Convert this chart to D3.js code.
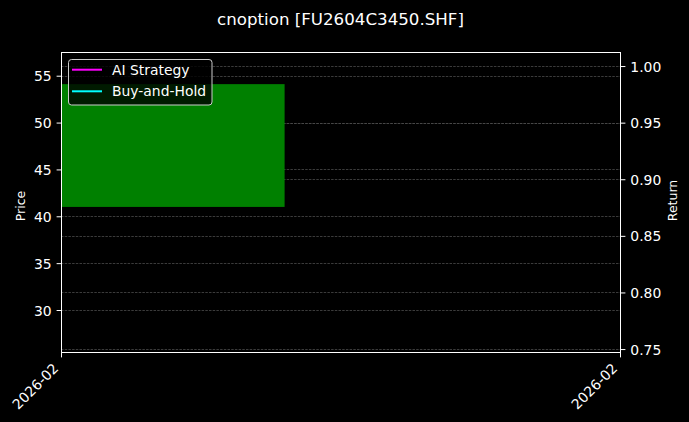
<!DOCTYPE html>
<html>
<head>
<meta charset="utf-8">
<script src="https://cdn.jsdelivr.net/npm/d3@7/dist/d3.min.js"></script>
<style>
  html, body { margin: 0; padding: 0; background: #000; }
  svg { display: block; font-family: "DejaVu Sans", sans-serif; }
</style>
</head>
<body>
<svg id="chart" width="689" height="422"></svg>
<script>
// ---- data ----
const title = "cnoption [FU2604C3450.SHF]";
const candleDates = ["2026-02-02"];
const candleOpen = [41.0];
const candleClose = [54.1];
const candleHigh = [56.0];
const candleLow = [27.0];
const xDomain = ["2026-02-02T00:00:00", "2026-02-03T00:00:00"];
const xTickLabels = ["2026-02", "2026-02"];
const priceDomain = [25.52, 57.53];
const priceTicks = [30, 35, 40, 45, 50, 55];
const returnDomain = [0.7474, 1.0124];
const returnTicks = [0.75, 0.80, 0.85, 0.90, 0.95, 1.00];
const legendNames = ["AI Strategy", "Buy-and-Hold"];
const legendColors = ["#ff00ff", "#00ffff"];

// ---- layout ----
const W = 689, H = 422;
const L = 61, R = 620, T = 52, B = 352;
const svg = d3.select("#chart");
svg.append("rect").attr("width", W).attr("height", H).attr("fill", "#000");

const parse = d3.isoParse;
const x = d3.scaleTime().domain(xDomain.map(parse)).range([L, R]);
const yP = d3.scaleLinear().domain(priceDomain).range([B, T]);
const yR = d3.scaleLinear().domain(returnDomain).range([B, T]);

svg.append("defs").append("clipPath").attr("id", "clip")
  .append("rect").attr("x", L).attr("y", T).attr("width", R - L).attr("height", B - T);

// grid lines (both axes)
const grid = svg.append("g");
function gridLines(scale, ticks) {
  grid.selectAll(null).data(ticks).enter().append("line")
    .attr("x1", L).attr("x2", R)
    .attr("y1", d => Math.round(scale(d)) + 0.5)
    .attr("y2", d => Math.round(scale(d)) + 0.5)
    .attr("stroke", "#4a4a4a").attr("stroke-width", 0.8)
    .attr("stroke-dasharray", "2.5,1.2");
}
gridLines(yP, priceTicks);
gridLines(yR, returnTicks);

// candles
const dayMs = 24 * 3600 * 1000;
const bodyHalf = 0.4 * dayMs;
const candles = candleDates.map((d, i) => ({
  date: parse(d + "T00:00:00"), open: candleOpen[i], close: candleClose[i],
  high: candleHigh[i], low: candleLow[i]
}));
const cg = svg.append("g").attr("clip-path", "url(#clip)");
cg.selectAll(".wick").data(candles).enter().append("line")
  .attr("x1", d => x(d.date)).attr("x2", d => x(d.date))
  .attr("y1", d => yP(d.high)).attr("y2", d => yP(d.low))
  .attr("stroke", d => d.close >= d.open ? "#008000" : "#ff0000").attr("stroke-width", 1);
cg.selectAll(".body").data(candles).enter().append("rect")
  .attr("x", d => x(new Date(+d.date - bodyHalf)))
  .attr("width", d => x(new Date(+d.date + bodyHalf)) - x(new Date(+d.date - bodyHalf)))
  .attr("y", d => yP(Math.max(d.open, d.close)))
  .attr("height", d => Math.abs(yP(d.open) - yP(d.close)))
  .attr("fill", d => d.close >= d.open ? "#008000" : "#ff0000");

// axes
const fs = 13.9;
const axL = svg.append("g").attr("transform", `translate(${L + 0.5},0)`)
  .call(d3.axisLeft(yP).tickValues(priceTicks).tickSize(4.9).tickPadding(4.9).tickFormat(d3.format("d")));
const axR = svg.append("g").attr("transform", `translate(${R + 0.5},0)`)
  .call(d3.axisRight(yR).tickValues(returnTicks).tickSize(4.9).tickPadding(4.9).tickFormat(d3.format(".2f")));
const xTicks = xDomain.map(parse);
const axB = svg.append("g").attr("transform", `translate(0,${B + 0.5})`)
  .call(d3.axisBottom(x).tickValues(xTicks).tickSize(4.9).tickFormat((d, i) => xTickLabels[i]));
[axL, axR, axB].forEach(a => {
  a.select(".domain").remove();
  a.selectAll(".tick line").attr("stroke", "#fff").attr("stroke-width", 1);
  a.selectAll("text").attr("fill", "#fff").attr("font-size", fs).attr("font-family", "DejaVu Sans");
});
axL.selectAll(".tick text").attr("dy", "0.36em");
axR.selectAll(".tick text").attr("dy", "0.36em");
axB.selectAll(".tick text")
  .attr("y", 0).attr("dy", 0)
  .attr("text-anchor", "end")
  .attr("transform", "translate(-2.3,16.7) rotate(-45)");

// spines
svg.append("rect").attr("x", L + 0.5).attr("y", T + 0.5)
  .attr("width", R - L).attr("height", B - T)
  .attr("fill", "none").attr("stroke", "#fff").attr("stroke-width", 1);

// axis labels
svg.append("text").attr("transform", "translate(25,206) rotate(-90)")
  .attr("text-anchor", "middle").attr("fill", "#fff").attr("font-size", 12.5).text("Price");
svg.append("text").attr("transform", "translate(677,200.5) rotate(-90)")
  .attr("text-anchor", "middle").attr("fill", "#fff").attr("font-size", 12.5).text("Return");

// title
svg.append("text").attr("x", 340.5).attr("y", 24.5).attr("text-anchor", "middle")
  .attr("fill", "#fff").attr("font-size", 16.67).text(title);

// legend
const lg = svg.append("g");
lg.append("rect").attr("x", 68.5).attr("y", 59.5).attr("width", 143.5).attr("height", 45.5)
  .attr("rx", 3).attr("fill", "#000").attr("fill-opacity", 0.8)
  .attr("stroke", "#ccc").attr("stroke-width", 1);
const items = lg.selectAll(".it").data(legendNames).enter().append("g")
  .attr("transform", (d, i) => `translate(0,${69.7 + i * 21.6})`);
items.append("line").attr("x1", 72).attr("x2", 102).attr("y1", 0).attr("y2", 0)
  .attr("stroke", (d, i) => legendColors[i]).attr("stroke-width", 2);
items.append("text").attr("x", 112).attr("y", 0).attr("dy", "0.36em")
  .attr("fill", "#fff").attr("font-size", fs).text(d => d);
</script>
</body>
</html>
